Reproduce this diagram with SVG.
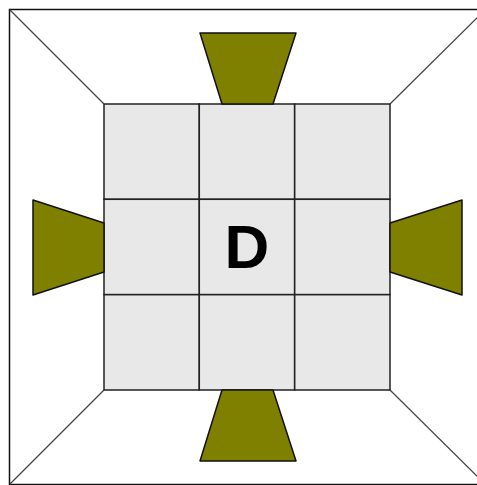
<svg xmlns="http://www.w3.org/2000/svg" width="477" height="485" viewBox="0 0 477 485">
<style>
.cell{fill:#e8e8e8;stroke:#222;stroke-width:1.5}
.trap{fill:#808000;stroke:#111;stroke-width:1.5;stroke-linejoin:round}
.diag{stroke:#444;stroke-width:1.2;fill:none}
.lbl{font-family:"Liberation Sans",Arial,sans-serif;font-weight:bold;font-size:62px;fill:#000}
</style>
<rect x="0" y="0" width="477" height="485" fill="#fff"/>
<rect x="9.5" y="9.5" width="476" height="475" fill="none" stroke="#111" stroke-width="1.5"/>
<g id="connectors">
<line class="diag" x1="10" y1="10" x2="104" y2="104"/>
<line class="diag" x1="485" y1="10" x2="390" y2="104"/>
<line class="diag" x1="10" y1="484" x2="104" y2="390"/>
<line class="diag" x1="485" y1="484" x2="390" y2="390"/>
</g>
<g id="grid">
<rect class="cell" x="104" y="104" width="95.3" height="95.3"/>
<rect class="cell" x="199.3" y="104" width="95.3" height="95.3"/>
<rect class="cell" x="294.7" y="104" width="95.3" height="95.3"/>
<rect class="cell" x="104" y="199.3" width="95.3" height="95.3"/>
<rect class="cell" x="199.3" y="199.3" width="95.3" height="95.3"/>
<rect class="cell" x="294.7" y="199.3" width="95.3" height="95.3"/>
<rect class="cell" x="104" y="294.7" width="95.3" height="95.3"/>
<rect class="cell" x="199.3" y="294.7" width="95.3" height="95.3"/>
<rect class="cell" x="294.7" y="294.7" width="95.3" height="95.3"/>
</g>
<g id="label"><text class="lbl" x="247" y="268" text-anchor="middle">D</text></g>
<g id="top"><polygon class="trap" points="200,33 296,33 273,104 222,104"/></g>
<g id="bottom"><polygon class="trap" points="222,390 273,390 296,461 200,461"/></g>
<g id="left"><polygon class="trap" points="33,200 104,223 104,272 33,295"/></g>
<g id="right"><polygon class="trap" points="390,223 462,200 462,295 390,272"/></g>
</svg>
